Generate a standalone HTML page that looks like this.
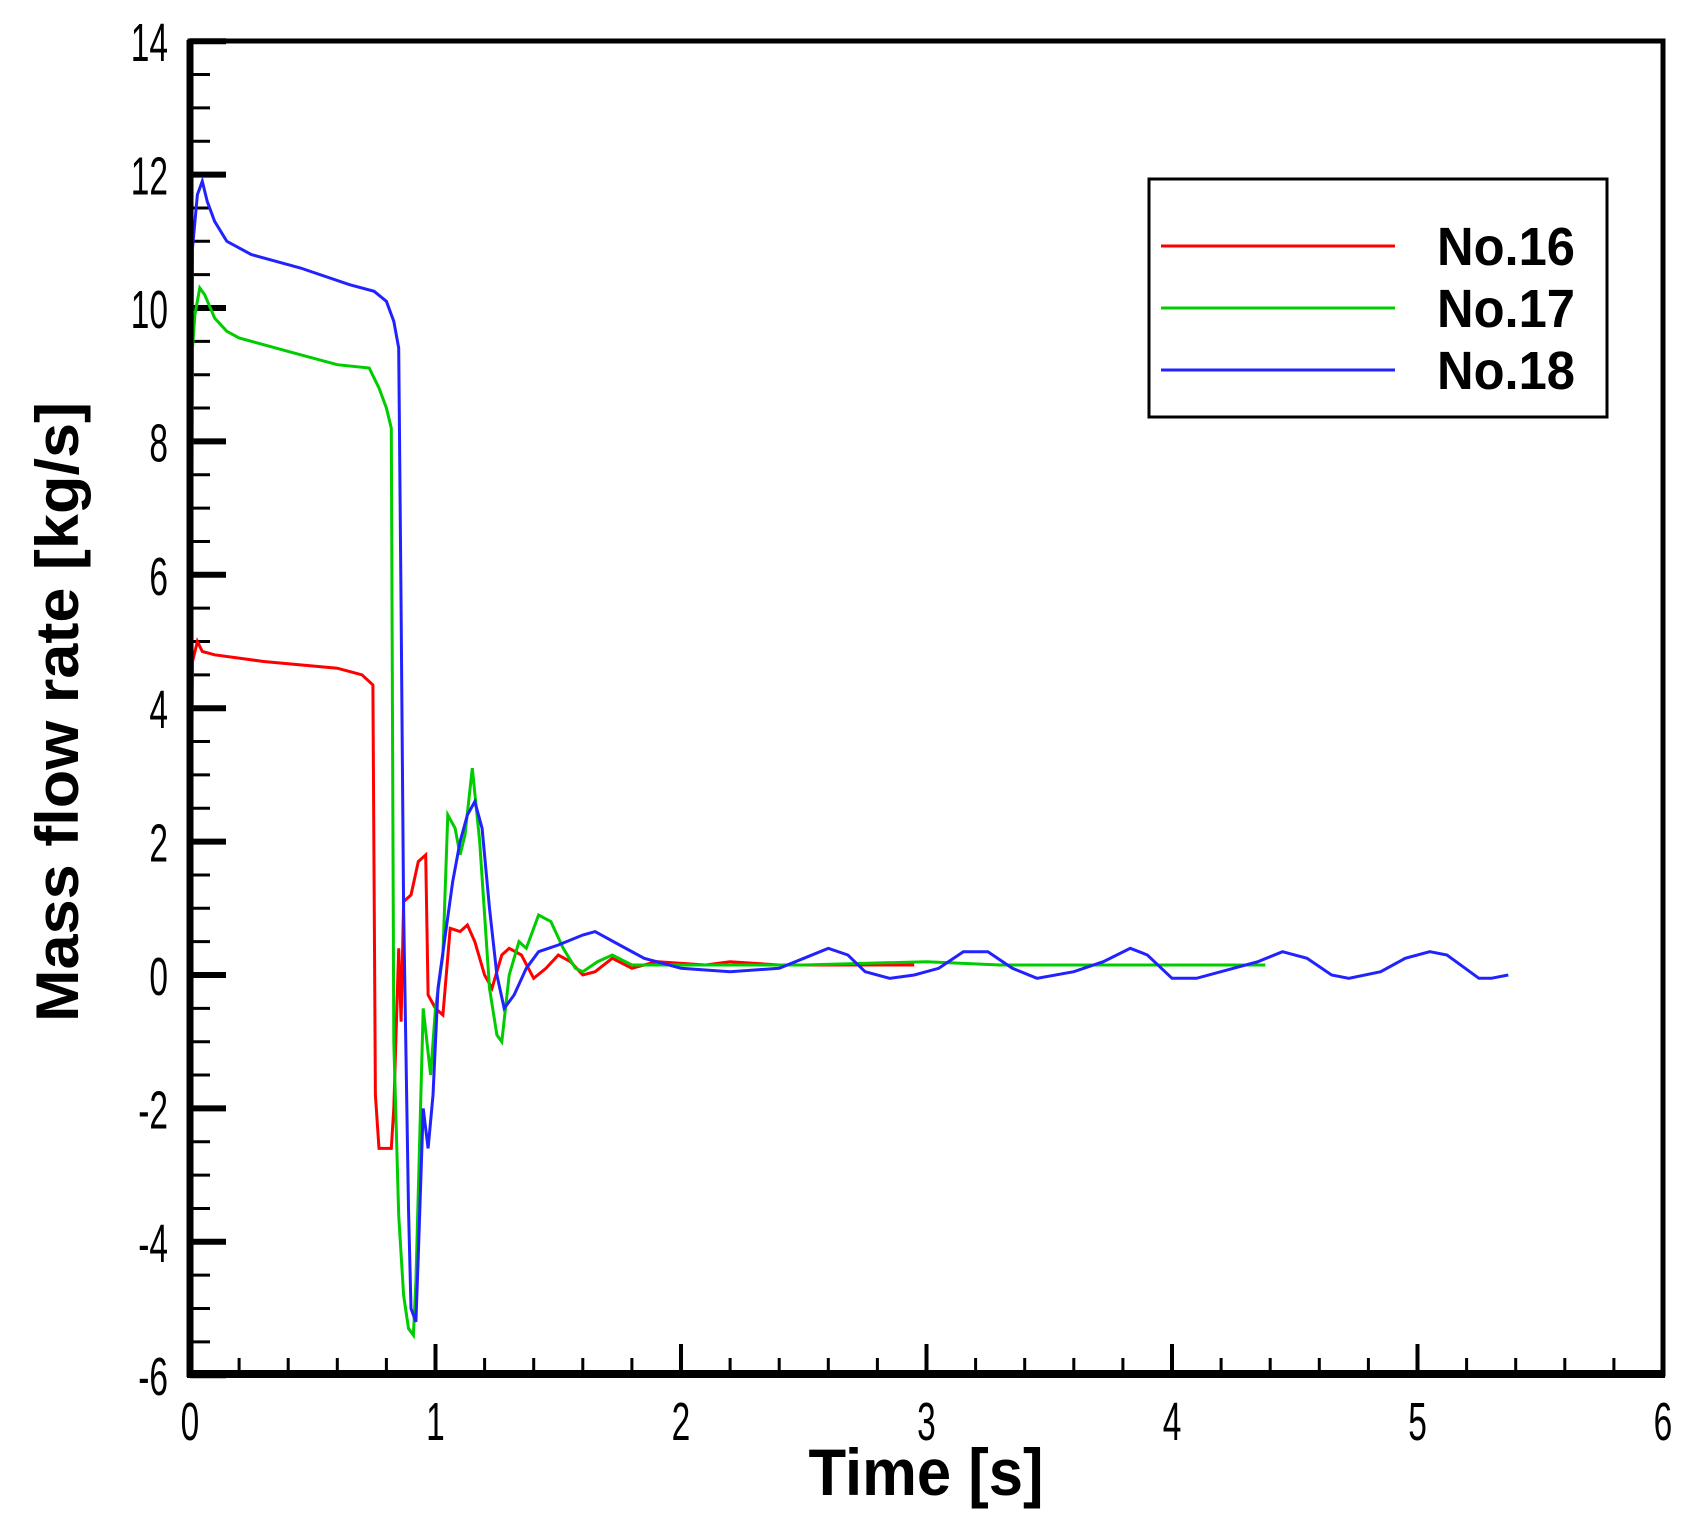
<!DOCTYPE html>
<html><head><meta charset="utf-8"><style>
html,body{margin:0;padding:0;background:#fff;}
svg{display:block;}
</style></head><body>
<svg width="1690" height="1532" viewBox="0 0 1690 1532" xmlns="http://www.w3.org/2000/svg">
<rect width="1690" height="1532" fill="#fff"/>
<g id="ticks" stroke="#000" stroke-width="3"></g>
<g id="series" fill="none" stroke-width="3" stroke-linejoin="miter"></g>
<rect x="190" y="41" width="1473" height="1333" fill="none" stroke="#000" stroke-width="5"/>
<line x1="187" y1="1374" x2="1665" y2="1374" stroke="#000" stroke-width="8"/>
<line x1="190" y1="40" x2="190" y2="1377" stroke="#000" stroke-width="7"/>
<g id="labels" font-family="Liberation Sans, sans-serif" font-size="54" fill="#000"></g>
<g fill="none" stroke-width="3">
<rect x="1149" y="179" width="458" height="238" fill="#fff" stroke="#000" stroke-width="3"/>
<line x1="1161" y1="246" x2="1395" y2="246" stroke="#f00"/>
<line x1="1161" y1="308" x2="1395" y2="308" stroke="#0c0"/>
<line x1="1161" y1="370" x2="1395" y2="370" stroke="#22f"/>
</g>
<g font-family="Liberation Sans, sans-serif" font-weight="bold" font-size="54" fill="#000">
<text x="1437" y="265" textLength="138" lengthAdjust="spacingAndGlyphs">No.16</text>
<text x="1437" y="327" textLength="138" lengthAdjust="spacingAndGlyphs">No.17</text>
<text x="1437" y="389" textLength="138" lengthAdjust="spacingAndGlyphs">No.18</text>
</g>
<text x="0" y="0" font-family="Liberation Sans, sans-serif" font-weight="bold" font-size="60" textLength="620" lengthAdjust="spacingAndGlyphs" transform="translate(78,712) rotate(-90)" text-anchor="middle">Mass flow rate [kg/s]</text>
<text x="926" y="1495" font-family="Liberation Sans, sans-serif" font-weight="bold" font-size="66" textLength="235" lengthAdjust="spacingAndGlyphs" text-anchor="middle">Time [s]</text>
<script>
var X=function(t){return 190+t*245.5;}, Y=function(v){return 975-v*66.7;};
var ns="http://www.w3.org/2000/svg";
var tg=document.getElementById('ticks'), lg=document.getElementById('labels');
function ln(x1,y1,x2,y2,w){var l=document.createElementNS(ns,'line');l.setAttribute('x1',x1);l.setAttribute('y1',y1);l.setAttribute('x2',x2);l.setAttribute('y2',y2);if(w)l.setAttribute('stroke-width',w);tg.appendChild(l);}
function tx(x,y,s,anc){var t=document.createElementNS(ns,'text');t.setAttribute('x',x);t.setAttribute('y',y);t.setAttribute('text-anchor',anc);t.setAttribute('transform','translate('+x+' 0) scale(0.62 1) translate('+(-x)+' 0)');t.textContent=s;lg.appendChild(t);}
for(var v=-6;v<=14;v+=0.5){var y=Y(v);var maj=Math.abs(v%2)<1e-9;ln(190,y,maj?226:210,y,maj?6:3);}
for(var v=-6;v<=14;v+=2){tx(168,Y(v)+20,String(v),'end');}
for(var t=0;t<=6.001;t+=0.2){var x=X(t);var maj=Math.abs(t-Math.round(t))<1e-6;ln(x,1374,x,maj?1344:1358,maj?4:3);}
for(var t=0;t<=6;t++){tx(X(t),1440,String(t),'middle');}
var sg=document.getElementById('series');
function pl(pts,c){var p=document.createElementNS(ns,'polyline');p.setAttribute('points',pts.map(function(a){return X(a[0]).toFixed(1)+','+Y(a[1]).toFixed(1);}).join(' '));p.setAttribute('stroke',c);sg.appendChild(p);}
var red=[[0,0],[0.01,4.7],[0.03,5.0],[0.05,4.85],[0.1,4.8],[0.3,4.7],[0.6,4.6],[0.7,4.5],[0.745,4.35],[0.755,-1.8],[0.77,-2.6],[0.82,-2.6],[0.83,-2.0],[0.85,0.4],[0.86,-0.7],[0.87,1.1],[0.9,1.2],[0.93,1.7],[0.96,1.8],[0.97,-0.3],[1.0,-0.5],[1.03,-0.6],[1.06,0.7],[1.1,0.65],[1.13,0.75],[1.16,0.5],[1.2,0],[1.23,-0.2],[1.27,0.3],[1.3,0.4],[1.35,0.3],[1.4,-0.05],[1.45,0.1],[1.5,0.3],[1.55,0.2],[1.6,0],[1.65,0.05],[1.72,0.25],[1.8,0.1],[1.9,0.2],[2.1,0.15],[2.2,0.2],[2.4,0.15],[2.95,0.15]];
var green=[[0,0],[0.01,9.4],[0.02,9.9],[0.04,10.3],[0.06,10.2],[0.1,9.85],[0.15,9.65],[0.2,9.55],[0.4,9.35],[0.6,9.15],[0.73,9.1],[0.77,8.8],[0.8,8.5],[0.82,8.2],[0.83,-1],[0.85,-3.6],[0.87,-4.8],[0.89,-5.3],[0.91,-5.4],[0.92,-4.6],[0.95,-0.5],[0.98,-1.5],[1.0,-0.5],[1.03,0.3],[1.05,2.4],[1.08,2.2],[1.1,1.8],[1.12,2.1],[1.15,3.1],[1.18,2.0],[1.2,0.9],[1.22,-0.2],[1.25,-0.9],[1.27,-1.0],[1.3,0],[1.34,0.5],[1.37,0.4],[1.42,0.9],[1.47,0.8],[1.52,0.4],[1.57,0.1],[1.6,0.05],[1.66,0.2],[1.72,0.3],[1.8,0.15],[2.0,0.15],[2.5,0.15],[3.0,0.2],[3.3,0.15],[3.8,0.15],[4.0,0.15],[4.38,0.15]];
var blue=[[0,0],[0.01,10.9],[0.03,11.7],[0.05,11.9],[0.07,11.6],[0.1,11.3],[0.15,11.0],[0.25,10.8],[0.45,10.6],[0.65,10.35],[0.75,10.25],[0.8,10.1],[0.83,9.8],[0.85,9.4],[0.86,5.5],[0.87,1],[0.89,-3.5],[0.9,-5.0],[0.92,-5.2],[0.93,-4.2],[0.95,-2.0],[0.97,-2.6],[0.99,-1.8],[1.01,-0.2],[1.04,0.6],[1.07,1.4],[1.1,2.0],[1.13,2.4],[1.16,2.6],[1.19,2.2],[1.22,1.0],[1.25,0],[1.28,-0.5],[1.32,-0.3],[1.37,0.1],[1.42,0.35],[1.5,0.45],[1.6,0.6],[1.65,0.65],[1.75,0.45],[1.85,0.25],[2.0,0.1],[2.2,0.05],[2.4,0.1],[2.5,0.25],[2.6,0.4],[2.68,0.3],[2.75,0.05],[2.85,-0.05],[2.95,0],[3.05,0.1],[3.15,0.35],[3.25,0.35],[3.35,0.1],[3.45,-0.05],[3.6,0.05],[3.72,0.2],[3.83,0.4],[3.9,0.3],[4.0,-0.05],[4.1,-0.05],[4.25,0.1],[4.35,0.2],[4.45,0.35],[4.55,0.25],[4.65,0],[4.72,-0.05],[4.85,0.05],[4.95,0.25],[5.05,0.35],[5.12,0.3],[5.25,-0.05],[5.3,-0.05],[5.37,0]];
pl(red,'#f00');pl(green,'#0c0');pl(blue,'#22f');
</script>
</svg>
</body></html>
